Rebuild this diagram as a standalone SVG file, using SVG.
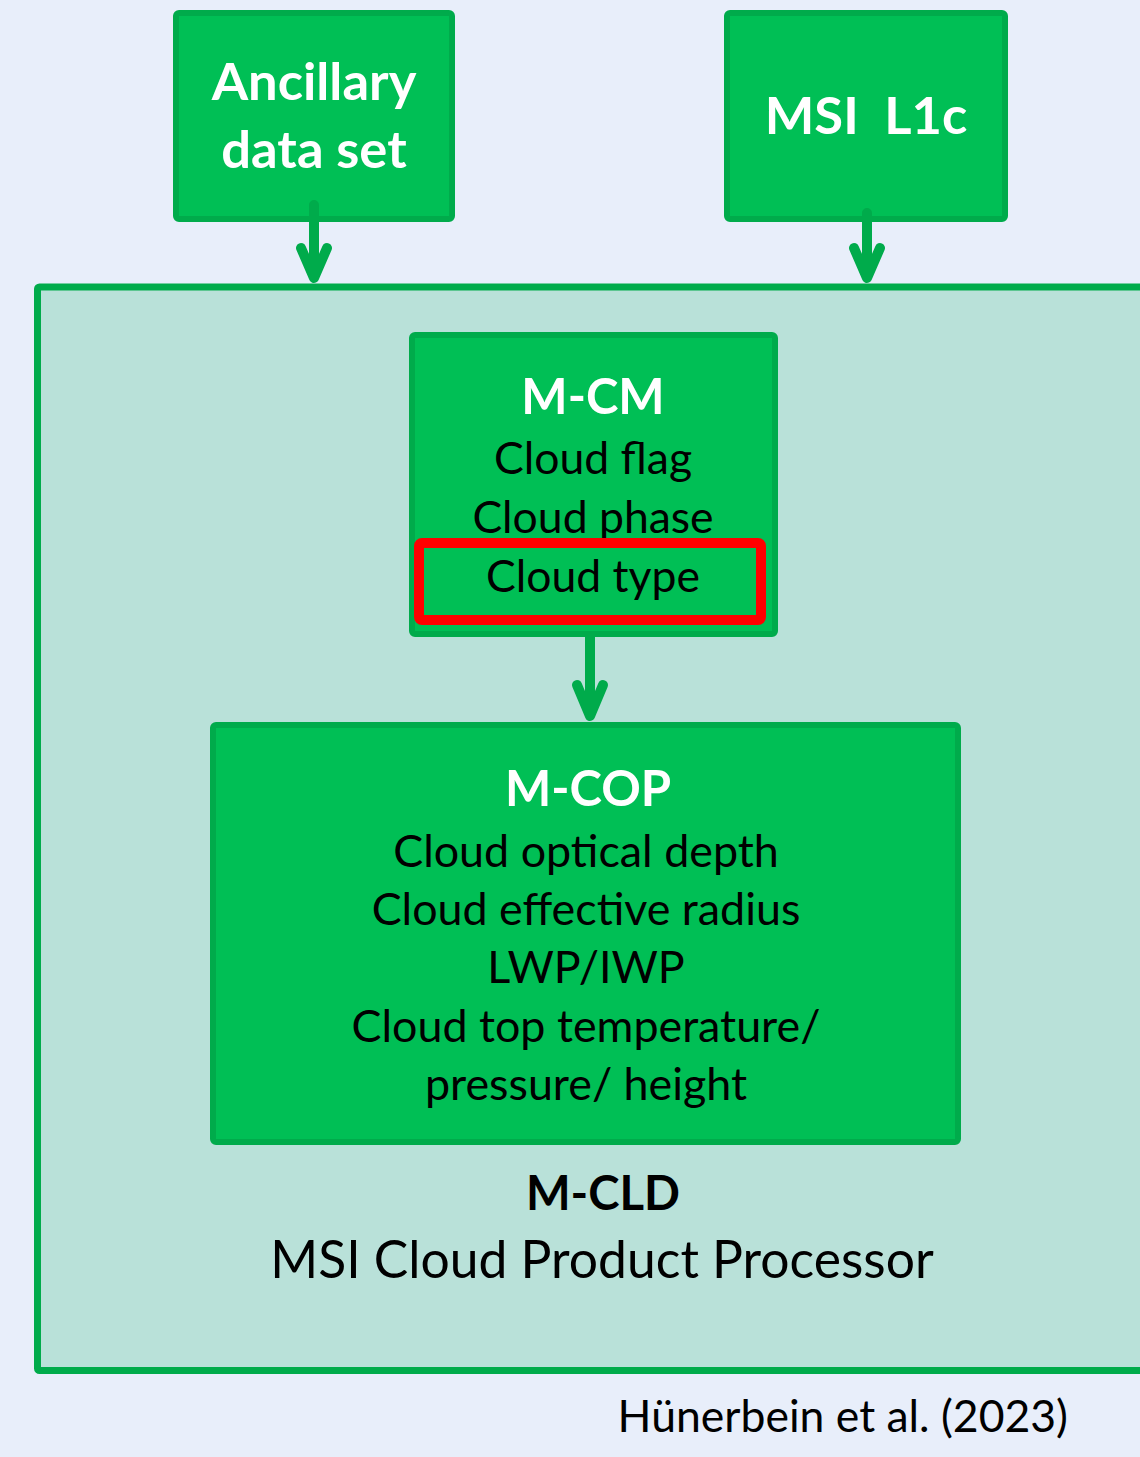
<svg xmlns="http://www.w3.org/2000/svg" width="1140" height="1457" viewBox="0 0 1140 1457">
<style>
.box{fill:#00BF55;stroke:#00AB4B;stroke-width:6}
.wb{font-family:Lato,"Liberation Sans",sans-serif;font-weight:bold;fill:#FFFFFF;text-anchor:middle}
.bk{font-family:Lato,"Liberation Sans",sans-serif;fill:#000000;text-anchor:middle}
.arr{fill:none;stroke:#00AB4B;stroke-width:10;stroke-linecap:round;stroke-linejoin:round}
</style>
<rect x="0" y="0" width="1140" height="1457" fill="#E8EEFA"/>
<g id="container">
<rect x="37.5" y="287" width="1110" height="1083.5" rx="2" fill="#B9E1D9" stroke="#00AB4B" stroke-width="7"/>
<text class="bk" x="603" y="1210" font-size="47.3" font-weight="bold">M-CLD</text>
<text class="bk" x="602" y="1278" font-size="51.6">MSI Cloud Product Processor</text>
</g>
<g id="ancillary">
<rect class="box" x="176" y="13" width="276" height="206" rx="3"/>
<text class="wb" x="314" y="100" font-size="52.5">Ancillary</text>
<text class="wb" x="314" y="168" font-size="52.5">data set</text>
</g>
<g id="msi-l1c">
<rect class="box" x="727" y="13" width="278" height="206" rx="3"/>
<text class="wb" x="866" y="134" font-size="52.5" style="white-space:pre">MSI  L1c</text>
</g>
<g id="m-cm">
<rect class="box" x="412" y="335" width="363" height="299" rx="3"/>
<text class="wb" x="593" y="414" font-size="49">M-CM</text>
<text class="bk" x="593" y="474" font-size="44.5">Cloud flag</text>
<text class="bk" x="593" y="533" font-size="44.5">Cloud phase</text>
<rect x="419" y="543" width="342" height="77" rx="3" fill="none" stroke="#FF0000" stroke-width="10"/>
<text class="bk" x="593" y="592" font-size="44.5">Cloud type</text>
</g>
<g id="m-cop">
<rect class="box" x="213" y="725" width="745" height="417" rx="3"/>
<text class="wb" x="588" y="806" font-size="49">M-COP</text>
<text class="bk" x="586" y="867" font-size="44.8">Cloud optical depth</text>
<text class="bk" x="586" y="925" font-size="44.8">Cloud effective radius</text>
<text class="bk" x="586" y="983" font-size="44.8">LWP/IWP</text>
<text class="bk" x="586" y="1042" font-size="44.8">Cloud top temperature/</text>
<text class="bk" x="586" y="1100" font-size="44.8">pressure/ height</text>
</g>
<g id="citation">
<text x="1068" y="1432" font-family="Lato,'Liberation Sans',sans-serif" font-size="44.5" text-anchor="end" fill="#000000">Hünerbein et al. (2023)</text>
</g>
<g id="connectors">
<path class="arr" d="M314 205 V278 M301 248 L314 278 L327 248"/>
<path class="arr" d="M867 213 V278 M854 248 L867 278 L880 248"/>
<path class="arr" d="M590 637 V716 M577 685 L590 716 L603 685"/>
</g>
</svg>
